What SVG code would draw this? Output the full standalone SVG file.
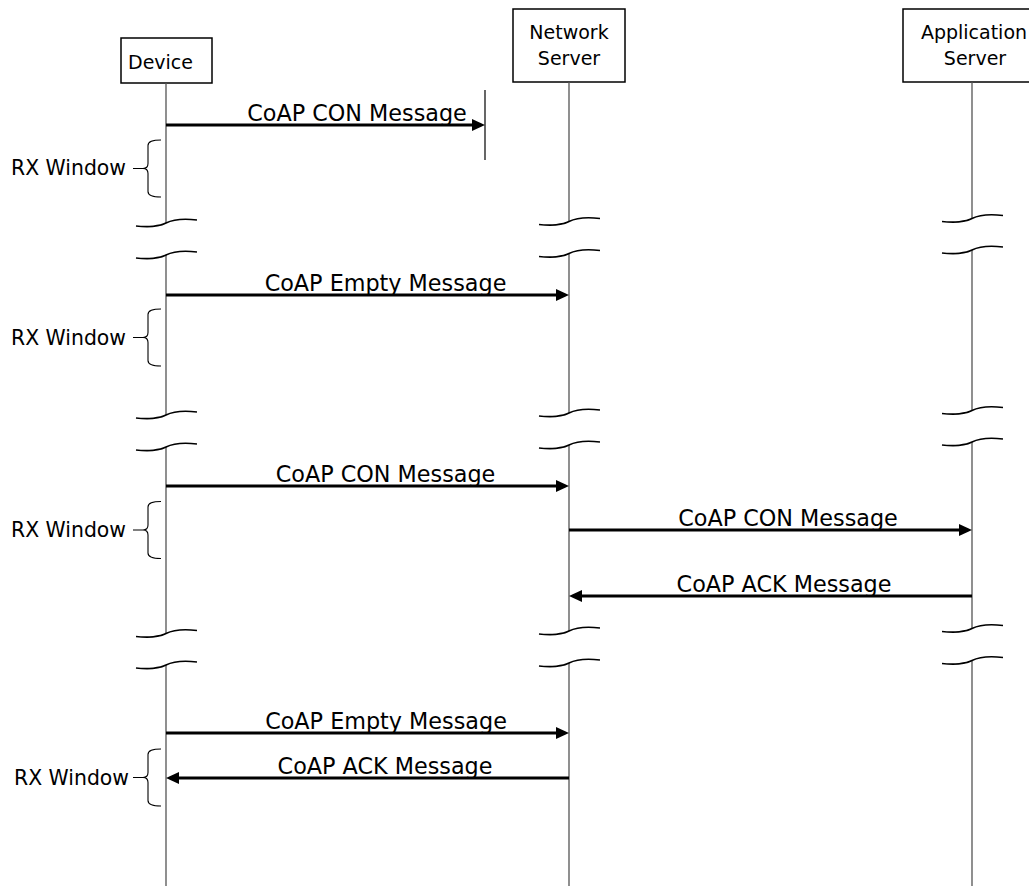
<svg xmlns="http://www.w3.org/2000/svg" width="1029" height="886" viewBox="0 0 1029 886">
<style>
.box{fill:#fff;stroke:#000;stroke-width:1.5}
.lbl{font-family:"DejaVu Sans",sans-serif;font-size:19px;fill:#000}
.life{stroke:#555;stroke-width:1.3;fill:none}
.brk{stroke:#000;stroke-width:1.6;fill:none}
.msg{stroke:#000;stroke-width:3;fill:none;marker-end:url(#ah)}
.mt{font-family:"DejaVu Sans",sans-serif;font-size:22.3px;fill:#000;text-anchor:middle}
.rx{font-family:"DejaVu Sans",sans-serif;font-size:20.4px;fill:#000}
.brace{stroke:#000;stroke-width:1.1;fill:none}
</style>
<defs>
<marker id="ah" markerUnits="userSpaceOnUse" markerWidth="14" markerHeight="12" refX="3" refY="6" orient="auto">
<path d="M0,0 L13,6 L0,12 z" fill="#000"/>
</marker>
<path id="bk" d="M-30,3 C-18,4.5 -6,3 0,0 C6,-3 18,-4.5 31,-3"/>
<path id="br" d="M13,-28.5 Q0,-28.5 0,-23 L0,-5 Q0,0 -5,0 Q0,0 0,5 L0,23 Q0,28.5 13,28.5 M-15,0 L-5,0"/>
</defs>

<g id="device">
<rect class="box" x="121" y="38" width="91" height="45"/>
<text class="lbl" x="128" y="69">Device</text>
<path class="life" d="M166,83 V223 M166,255 V415 M166,447 V633.5 M166,665 V886"/>
<g class="brk">
<use href="#bk" x="166" y="223"/><use href="#bk" x="166" y="255"/>
<use href="#bk" x="166" y="415"/><use href="#bk" x="166" y="447"/>
<use href="#bk" x="166" y="633.5"/><use href="#bk" x="166" y="665"/>
</g>
</g>

<g id="network-server">
<rect class="box" x="513" y="9" width="112" height="73"/>
<text class="lbl" x="569" y="39" text-anchor="middle">Network</text>
<text class="lbl" x="569" y="65" text-anchor="middle">Server</text>
<path class="life" d="M569,82 V221.5 M569,253.5 V413 M569,445 V631 M569,663 V886"/>
<g class="brk">
<use href="#bk" x="569" y="221.5"/><use href="#bk" x="569" y="253.5"/>
<use href="#bk" x="569" y="413"/><use href="#bk" x="569" y="445"/>
<use href="#bk" x="569" y="631"/><use href="#bk" x="569" y="663"/>
</g>
</g>

<g id="application-server">
<rect class="box" x="903" y="9" width="142" height="73"/>
<text class="lbl" x="974" y="39" text-anchor="middle">Application</text>
<text class="lbl" x="975" y="65" text-anchor="middle">Server</text>
<path class="life" d="M972,82 V218.5 M972,250 V410.5 M972,442 V628.5 M972,660.5 V886"/>
<g class="brk">
<use href="#bk" x="972" y="218.5"/><use href="#bk" x="972" y="250"/>
<use href="#bk" x="972" y="410.5"/><use href="#bk" x="972" y="442"/>
<use href="#bk" x="972" y="628.5"/><use href="#bk" x="972" y="660.5"/>
</g>
</g>

<g id="rx-windows">
<g class="brace">
<use href="#br" x="148" y="168.5"/>
<use href="#br" x="148" y="337.5"/>
<use href="#br" x="148" y="530"/>
<use href="#br" x="148" y="777.5"/>
</g>
<text class="rx" x="11" y="175">RX Window</text>
<text class="rx" x="11" y="344.5">RX Window</text>
<text class="rx" x="11" y="537">RX Window</text>
<text class="rx" x="14" y="784.5">RX Window</text>
</g>

<g id="connectors">
<line x1="485" y1="90" x2="485" y2="160" stroke="#000" stroke-width="1.2"/>
<line class="msg" x1="166" y1="125" x2="475" y2="125"/>
<line class="msg" x1="166" y1="295" x2="559" y2="295"/>
<line class="msg" x1="166" y1="486" x2="559" y2="486"/>
<line class="msg" x1="569" y1="530" x2="962" y2="530"/>
<line class="msg" x1="972" y1="596" x2="579" y2="596"/>
<line class="msg" x1="166" y1="733" x2="559" y2="733"/>
<line class="msg" x1="569" y1="778" x2="176" y2="778"/>
<text class="mt" x="357" y="121">CoAP CON Message</text>
<text class="mt" x="385.5" y="291">CoAP Empty Message</text>
<text class="mt" x="385.5" y="482">CoAP CON Message</text>
<text class="mt" x="788" y="526">CoAP CON Message</text>
<text class="mt" x="784" y="592">CoAP ACK Message</text>
<text class="mt" x="386" y="729">CoAP Empty Message</text>
<text class="mt" x="385" y="774">CoAP ACK Message</text>
</g>
</svg>
